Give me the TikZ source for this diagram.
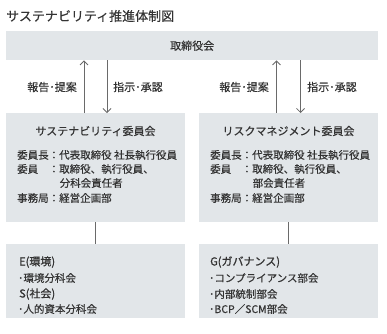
\documentclass[tikz,border=0pt]{standalone}
\usepackage{fontspec}
\setmainfont{Noto Sans CJK JP}[FakeBold=0.35]
\newfontfamily\heavyfont{Noto Sans CJK JP}[FakeBold=1.0]
\usetikzlibrary{arrows.meta,calc}
\definecolor{boxfill}{HTML}{E2E6E9}
\definecolor{txt}{HTML}{333333}
\definecolor{lin}{HTML}{6A6A6A}
\tikzset{
  panel/.style={fill=boxfill, draw=none, inner sep=0pt, anchor=north west},
  ttl/.style={text=txt, inner sep=0pt, font=\fontsize{13}{15}\selectfont},
  head/.style={text=txt, inner sep=0pt, font=\fontsize{11}{13}\selectfont},
  body/.style={text=txt, inner sep=0pt, anchor=west, font=\fontsize{10.5}{12}\selectfont},
  esg/.style={body, font=\heavyfont\fontsize{11}{13}\selectfont},
  lbl/.style={text=txt, inner sep=0pt, font=\fontsize{11}{13}\selectfont},
  arr/.style={draw=lin, line width=0.8pt, -{Straight Barb[length=4pt,width=8pt,line width=0.8pt]}},
  link/.style={draw=lin, line width=1.2pt}
}
\begin{document}
\begin{tikzpicture}[x=1pt,y=-1pt]
\useasboundingbox (0,0) rectangle (387,333);
% title
\node[ttl, anchor=west] (title) at (6,16) {サステナビリティ推進体制図};
% board
\node[panel, minimum width=372pt, minimum height=29pt] (board) at (6,31) {};
\node[head] (boardt) at (board.center) {取締役会};
% committees
\node[panel, minimum width=179pt, minimum height=109pt] (sc) at (6,113) {};
\node[panel, minimum width=179pt, minimum height=109pt] (rc) at (199,113) {};
% bottom boxes
\node[panel, minimum width=179pt, minimum height=74pt] (es) at (6,244) {};
\node[panel, minimum width=179pt, minimum height=74pt] (gv) at (199,244) {};
% arrow columns
\coordinate (ul) at (84,0);
\coordinate (dl) at (107,0);
\coordinate (ur) at (276.5,0);
\coordinate (dr) at (300.5,0);
\draw[arr] (sc.north -| ul) -- (board.south -| ul);
\draw[arr] (board.south -| dl) -- (sc.north -| dl);
\draw[arr] (rc.north -| ur) -- (board.south -| ur);
\draw[arr] (board.south -| dr) -- (rc.north -| dr);
\node[lbl, anchor=east] (l1) at (77,87) {報告･提案};
\node[lbl, anchor=west] (l2) at (113,87) {指示･承認};
\node[lbl, anchor=east] (l3) at (269,87) {報告･提案};
\node[lbl, anchor=west] (l4) at (307,87) {指示･承認};
% links
\draw[link] (sc.south) -- (es.north);
\draw[link] (rc.south) -- (gv.north);
% left committee text
\node[head] (sct) at (95.5,131) {サステナビリティ委員会};
\node[body] (s1) at (17,155) {委員長：代表取締役 社長執行役員};
\node[body] (s2) at (17,169) {委員};
\node[body] (s2b) at (48.5,169) {：取締役、執行役員、};
\node[body] (s3) at (59.5,183) {分科会責任者};
\node[body] (s4) at (17,198) {事務局：経営企画部};
% right committee text
\node[head] (rct) at (288.5,131) {リスクマネジメント委員会};
\node[body] (r1) at (210,155) {委員長：代表取締役 社長執行役員};
\node[body] (r2) at (210,169) {委員};
\node[body] (r2b) at (241.5,169) {：取締役、執行役員、};
\node[body] (r3) at (252.5,183) {部会責任者};
\node[body] (r4) at (210,198) {事務局：経営企画部};
% bottom left text
\node[esg] (e1) at (19,262) {E(環境)};
\node[body] (e2) at (18,278) {･環境分科会};
\node[esg] (e3) at (19,294) {S(社会)};
\node[body] (e4) at (18,309) {･人的資本分科会};
% bottom right text
\node[esg] (g1) at (210,262) {G(ガバナンス)};
\node[body] (g2) at (209,278) {･コンプライアンス部会};
\node[body] (g3) at (209,294) {･内部統制部会};
\node[body] (g4) at (209,309) {･BCP／SCM部会};
\end{tikzpicture}
\end{document}
